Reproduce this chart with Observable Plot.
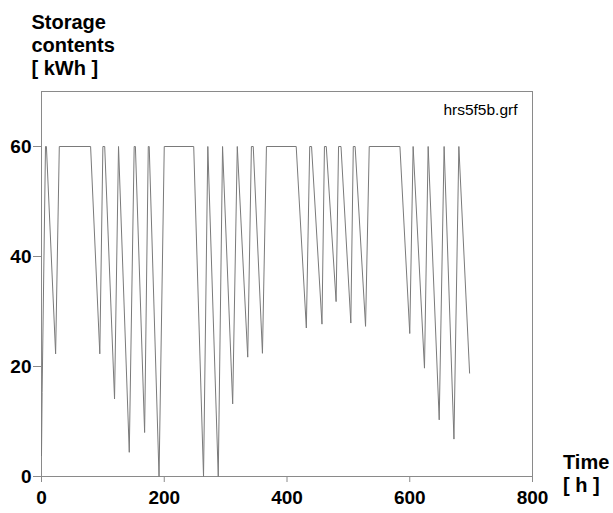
<!DOCTYPE html>
<html>
<head>
<meta charset="utf-8">
<script src="https://cdn.jsdelivr.net/npm/d3@7"></script>
<script src="https://cdn.jsdelivr.net/npm/@observablehq/plot@0.6"></script>
<style>
  html, body { margin: 0; padding: 0; background: #fff; }
  #chart svg { display: block; }
</style>
</head>
<body>
<div id="chart"></div>
<script>
// Time in hours
const hours = [0, 1, 6.5, 8, 23, 29, 80, 95, 100, 103, 119, 125.5, 143, 151, 153, 168, 174, 175.5, 191.5, 200,
  248, 264, 271, 288, 295, 311.5, 319, 336, 342, 345, 360, 366.5, 415, 431.5, 437, 440, 457, 461, 464,
  480, 484, 488, 504, 508, 511, 528, 534, 584, 600, 605.5, 624, 630, 648, 656, 672, 680, 697.5];
// Storage contents in kWh
const storage = [3.8, 15.3, 60, 60, 22.3, 60, 60, 22.3, 60, 60, 14.1, 60, 4.4, 60, 60, 8.0, 60, 60, 0, 60,
  60, 0, 60, 0, 60, 13.2, 60, 21.7, 60, 60, 22.4, 60, 60, 27.0, 60, 60, 27.7, 60, 60,
  31.8, 60, 60, 27.9, 60, 60, 27.3, 60, 60, 26.0, 60, 19.7, 60, 10.3, 60, 6.8, 60, 18.8];

const xTicks = [0, 200, 400, 600, 800];
const yTicks = [0, 20, 40, 60];
const yTitle = "Storage\ncontents\n[ kWh ]";
const xTitle = "Time\n[ h ]";
const fileLabel = "hrs5f5b.grf";

const data = hours.map((h, i) => ({h, v: storage[i]}));

const chart = Plot.plot({
  width: 613,
  height: 513,
  marginLeft: 41,
  marginRight: 81,
  marginTop: 91,
  marginBottom: 37,
  style: {fontFamily: "Liberation Sans, Arial, sans-serif", background: "#fff", color: "#000"},
  x: {domain: [0, 800]},
  y: {domain: [0, 70]},
  marks: [
    Plot.frame({stroke: "#8a8a8a"}),
    Plot.axisX({ticks: xTicks, tickSize: 6, tickPadding: 8, stroke: "#8a8a8a", fill: "#000",
      fontSize: 19, fontWeight: "bold", label: null}),
    Plot.axisY({ticks: yTicks, tickSize: 8, tickPadding: 2, stroke: "#8a8a8a", fill: "#000",
      fontSize: 19, fontWeight: "bold", label: null}),
    Plot.line(data, {x: "h", y: "v", stroke: "#7a7a7a", strokeWidth: 1}),
    Plot.text([fileLabel], {frameAnchor: "top-right", textAnchor: "end", lineAnchor: "top",
      dx: -15, dy: 12, fontSize: 15.5, fill: "#000"}),
    Plot.text([yTitle], {frameAnchor: "top-left", textAnchor: "start", lineAnchor: "top",
      dx: -10, dy: -79, fontSize: 20, fontWeight: "bold", lineHeight: 1.15, fill: "#000"}),
    Plot.text([xTitle], {frameAnchor: "bottom-right", textAnchor: "start", lineAnchor: "top",
      dx: 30.5, dy: -24, fontSize: 20, fontWeight: "bold", lineHeight: 1.15, fill: "#000"})
  ]
});
document.getElementById("chart").appendChild(chart);
</script>
</body>
</html>
